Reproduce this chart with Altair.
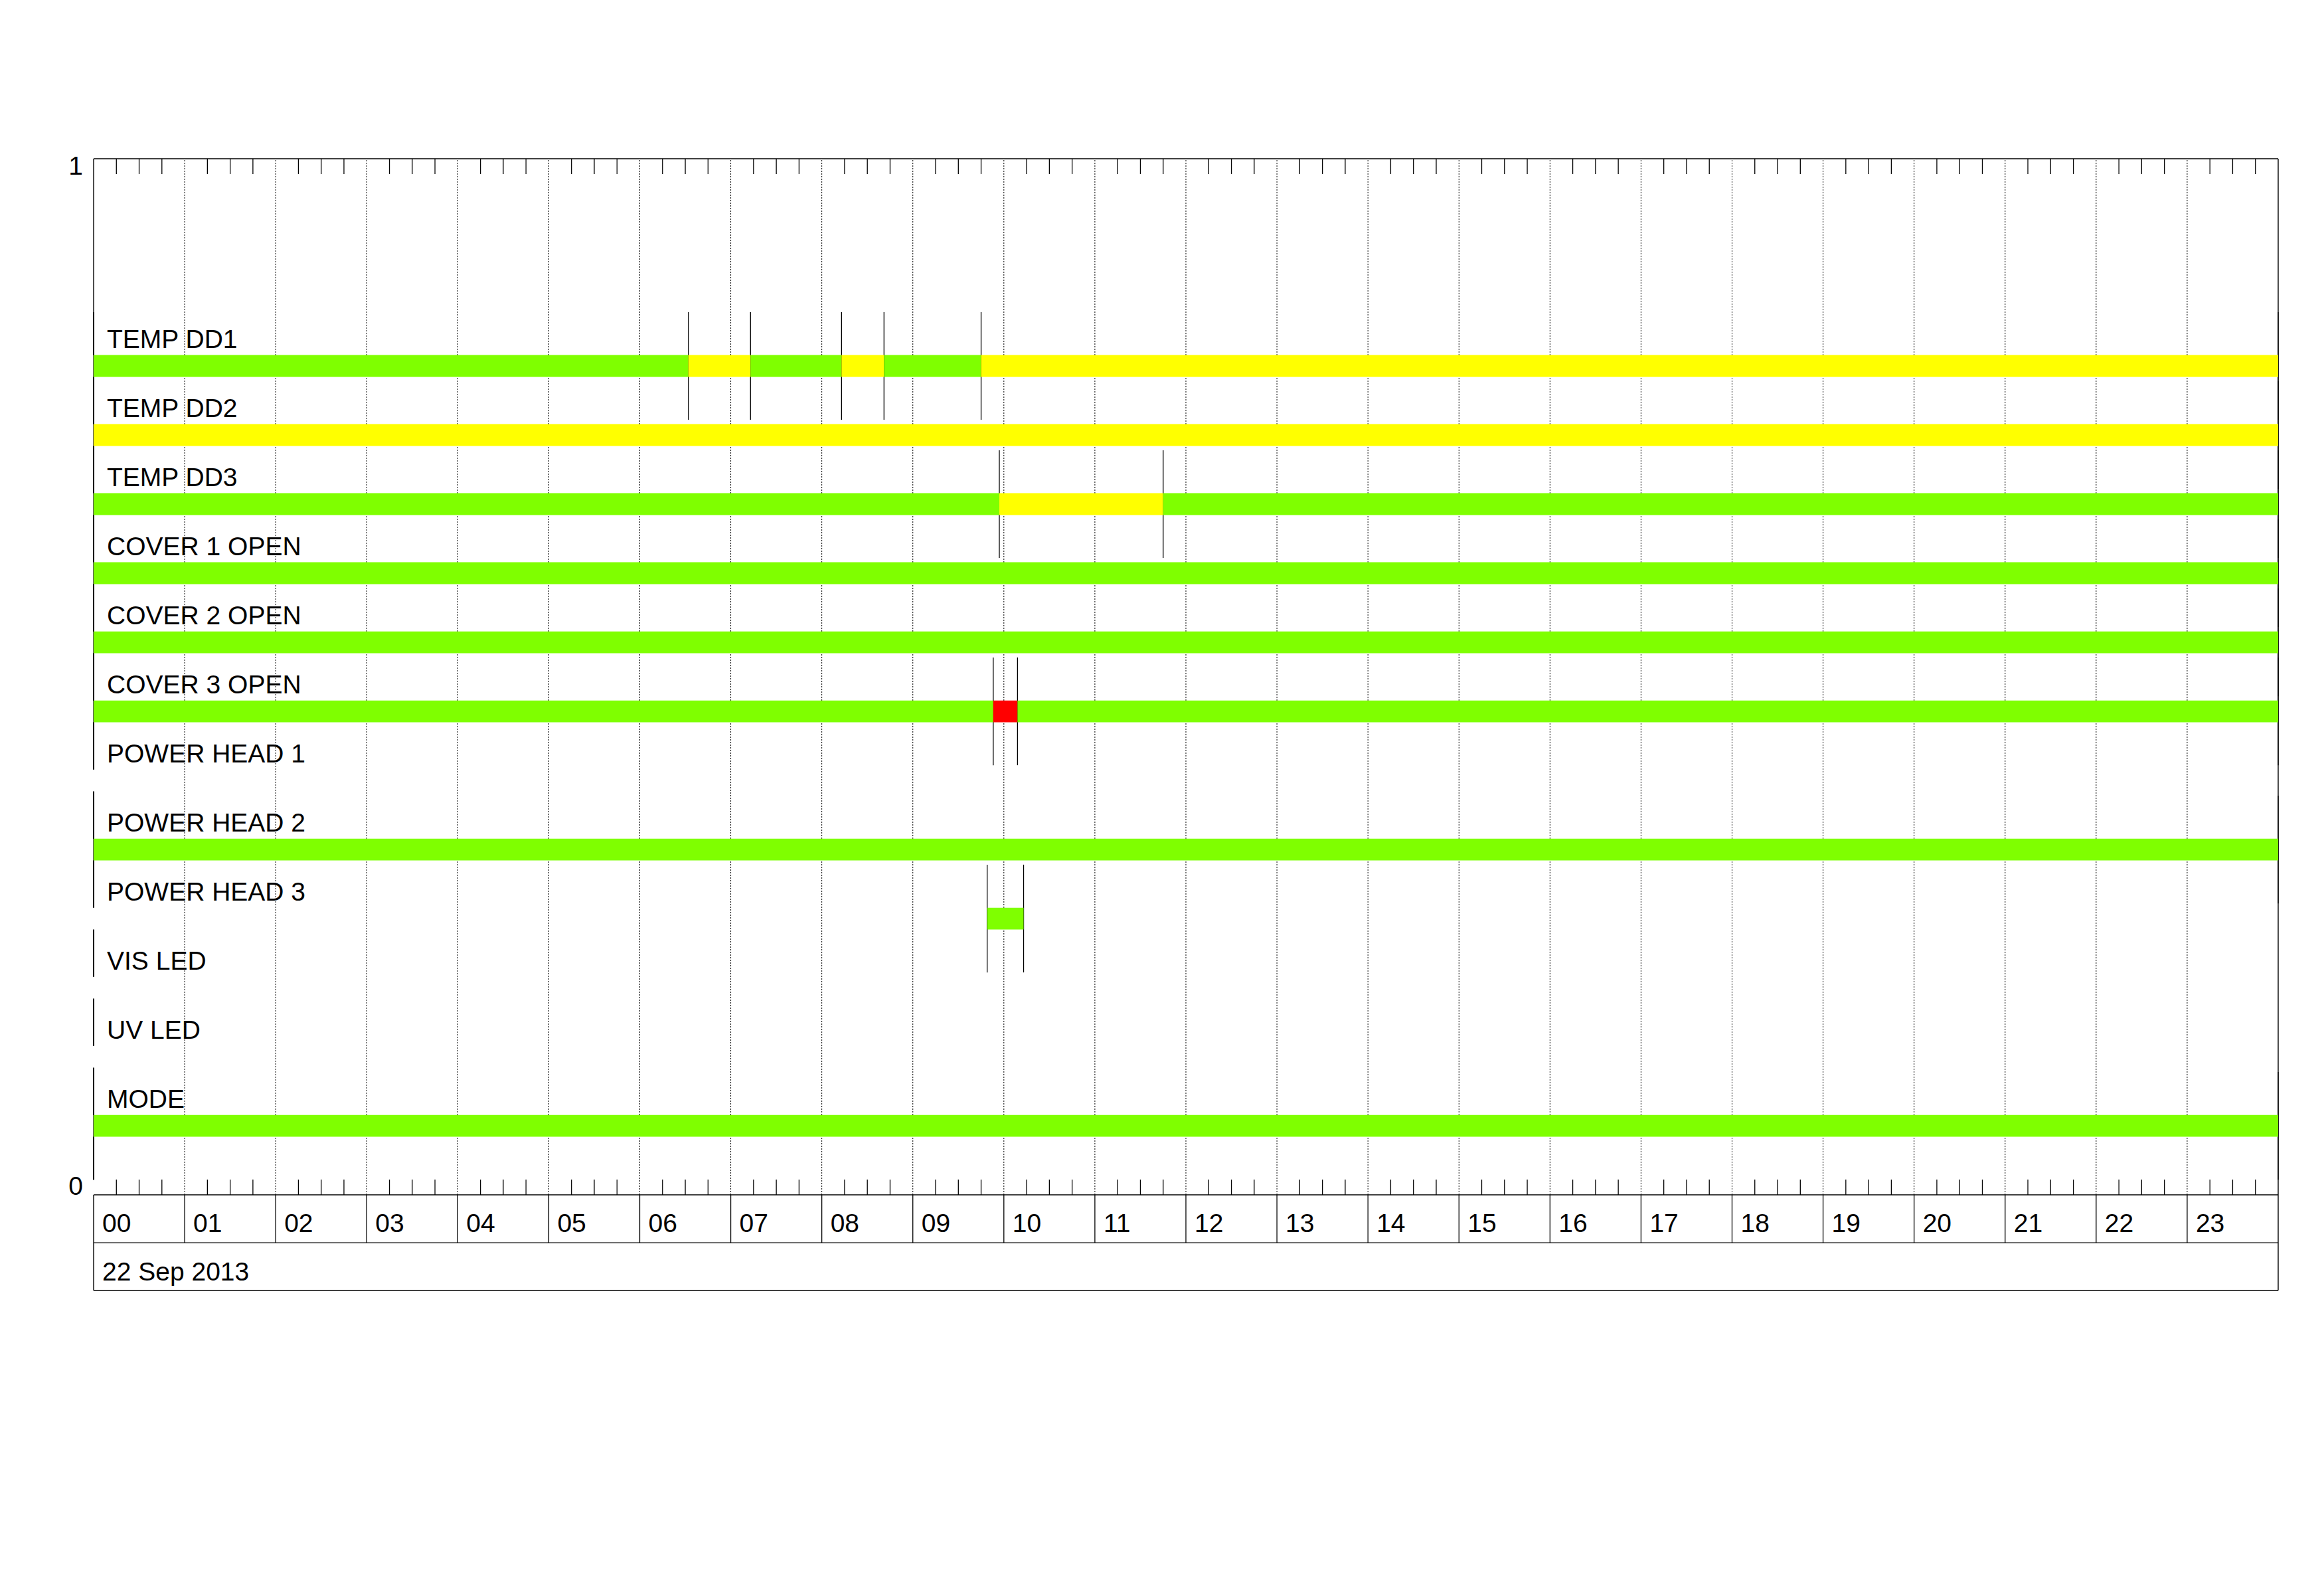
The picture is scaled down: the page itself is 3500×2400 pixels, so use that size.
import altair as alt
import pandas as pd

# ---------------------------------------------------------------------------
# Housekeeping status timeline, 22 Sep 2013 (hours of the day on x)
# ---------------------------------------------------------------------------
rows = [
    "TEMP DD1", "TEMP DD2", "TEMP DD3",
    "COVER 1 OPEN", "COVER 2 OPEN", "COVER 3 OPEN",
    "POWER HEAD 1", "POWER HEAD 2", "POWER HEAD 3",
    "VIS LED", "UV LED", "MODE",
]

# status segments: row, start (HH:MM), end (HH:MM), state
seg_row = [
    "TEMP DD1", "TEMP DD1", "TEMP DD1", "TEMP DD1", "TEMP DD1", "TEMP DD1",
    "TEMP DD2",
    "TEMP DD3", "TEMP DD3", "TEMP DD3",
    "COVER 1 OPEN",
    "COVER 2 OPEN",
    "COVER 3 OPEN", "COVER 3 OPEN", "COVER 3 OPEN",
    "POWER HEAD 2",
    "POWER HEAD 3",
    "MODE",
]
seg_start = [
    "00:00", "06:32", "07:13", "08:13", "08:41", "09:45",
    "00:00",
    "00:00", "09:57", "11:45",
    "00:00",
    "00:00",
    "00:00", "09:53", "10:09",
    "00:00",
    "09:49",
    "00:00",
]
seg_end = [
    "06:32", "07:13", "08:13", "08:41", "09:45", "24:00",
    "24:00",
    "09:57", "11:45", "24:00",
    "24:00",
    "24:00",
    "09:53", "10:09", "24:00",
    "24:00",
    "10:13",
    "24:00",
]
seg_state = [
    "ok", "warning", "ok", "warning", "ok", "warning",
    "warning",
    "ok", "warning", "ok",
    "ok",
    "ok",
    "ok", "alarm", "ok",
    "ok",
    "ok",
    "ok",
]

state_names = ["ok", "warning", "alarm"]
state_colors = ["#7FFF00", "#FFFF00", "#FF0000"]

hour_labels = [f"{h:02d}" for h in range(24)]
date_label = "22 Sep 2013"
y_labels = ["0", "1"]

# ---------------------------------------------------------------------------
# geometry in data units
# ---------------------------------------------------------------------------
X_MIN, X_MAX = 0.0, 24.0
Y_TOP = 1.0
ROW1_BOTTOM = -0.0462   # bottom of the hour-label strip
ROW2_BOTTOM = -0.0923   # bottom of the date strip
BAR_HALF = 0.0105
MARK_HALF = 0.052
TICK_LEN = 0.0147
FONT = "Liberation Sans, Arial, sans-serif"
FS = 39


def hours(t):
    hh, mm = t.split(":")
    return int(hh) + int(mm) / 60.0


def centre(name):
    i = rows.index(name)
    return (len(rows) - i) / 15.0


X_SCALE = alt.Scale(domain=[X_MIN, X_MAX], nice=False, zero=False)
Y_SCALE = alt.Scale(domain=[ROW2_BOTTOM, Y_TOP], nice=False, zero=False)


def X(f="x"):
    return alt.X(f"{f}:Q", scale=X_SCALE, axis=None)


def Y(f="y"):
    return alt.Y(f"{f}:Q", scale=Y_SCALE, axis=None)


# segments table
seg = pd.DataFrame({
    "row": seg_row,
    "x": [hours(t) for t in seg_start],
    "x2": [hours(t) for t in seg_end],
    "state": seg_state,
})
seg["c"] = seg["row"].map(centre)
seg["y"] = seg["c"] - BAR_HALF
seg["y2"] = seg["c"] + BAR_HALF

# transition markers at every segment boundary
bounds = pd.concat([seg[["row", "x", "c"]],
                    seg[["row", "x2", "c"]].rename(columns={"x2": "x"})])
bounds = bounds.drop_duplicates()
bounds["y"] = bounds["c"] - MARK_HALF
bounds["y2"] = bounds["c"] + MARK_HALF

# start markers on the left edge for every row (split around the bar slot)
left = []
for r in rows:
    c = centre(r)
    left.append({"x": X_MIN, "y": c + BAR_HALF, "y2": c + MARK_HALF})
    left.append({"x": X_MIN, "y": c - MARK_HALF, "y2": c - BAR_HALF})
left = pd.DataFrame(left)

# hour grid (dashed in the plot, solid in the label strip)
grid = pd.DataFrame({"x": list(range(1, 24))})
grid["y"], grid["y2"] = 0.0, Y_TOP
div = pd.DataFrame({"x": list(range(1, 24))})
div["y"], div["y2"] = ROW1_BOTTOM, 0.0

# quarter-hour minor ticks, top and bottom
quarters = [h + q / 4 for h in range(24) for q in (1, 2, 3)]
ticks = pd.DataFrame(
    [{"x": q, "y": Y_TOP - TICK_LEN, "y2": Y_TOP} for q in quarters]
    + [{"x": q, "y": 0.0, "y2": TICK_LEN} for q in quarters]
)

# frame: horizontal and vertical edges
hlines = pd.DataFrame({
    "x": [X_MIN] * 4, "x2": [X_MAX] * 4,
    "y": [Y_TOP, 0.0, ROW1_BOTTOM, ROW2_BOTTOM],
})
vlines = pd.DataFrame({
    "x": [X_MAX, X_MIN, X_MIN],
    "y": [ROW2_BOTTOM, ROW2_BOTTOM, centre(rows[0]) + MARK_HALF],
    "y2": [Y_TOP, 0.0, Y_TOP],
})

# text tables
row_text = pd.DataFrame({"label": rows, "x": X_MIN,
                         "y": [centre(r) + 0.017 for r in rows]})
hour_text = pd.DataFrame({"label": hour_labels,
                          "x": [float(h) for h in range(24)], "y": -0.0359})
date_text = pd.DataFrame({"label": [date_label], "x": [X_MIN], "y": [-0.0827]})
ytext = pd.DataFrame({"label": y_labels, "x": [X_MIN, X_MIN],
                      "y": [0.0, Y_TOP - 0.0152]})

# ---------------------------------------------------------------------------
# layers
# ---------------------------------------------------------------------------
grid_layer = alt.Chart(grid).mark_rule(
    color="#000000", strokeWidth=1, strokeDash=[2, 2]
).encode(x=X(), y=Y(), y2="y2:Q")

div_layer = alt.Chart(div).mark_rule(color="#000000", strokeWidth=1.3).encode(
    x=X(), y=Y(), y2="y2:Q")

tick_layer = alt.Chart(ticks).mark_rule(color="#000000", strokeWidth=1.3).encode(
    x=X(), y=Y(), y2="y2:Q")

hline_layer = alt.Chart(hlines).mark_rule(color="#000000", strokeWidth=1.4).encode(
    x=X(), x2="x2:Q", y=Y())

vline_layer = alt.Chart(vlines).mark_rule(color="#000000", strokeWidth=1.4).encode(
    x=X(), y=Y(), y2="y2:Q")

left_layer = alt.Chart(left).mark_rule(color="#000000", strokeWidth=2).encode(
    x=X(), y=Y(), y2="y2:Q")

mark_layer = alt.Chart(bounds).mark_rule(color="#000000", strokeWidth=1.3).encode(
    x=X(), y=Y(), y2="y2:Q")

bar_layer = alt.Chart(seg).mark_rect(strokeWidth=0).encode(
    x=X(), x2="x2:Q", y=Y(), y2="y2:Q",
    color=alt.Color("state:N",
                    scale=alt.Scale(domain=state_names, range=state_colors),
                    legend=None),
)

row_label_layer = alt.Chart(row_text).mark_text(
    align="left", baseline="alphabetic", dx=20, font=FONT, fontSize=FS,
    color="#000000"
).encode(x=X(), y=Y(), text="label:N")

hour_label_layer = alt.Chart(hour_text).mark_text(
    align="left", baseline="alphabetic", dx=13, font=FONT, fontSize=FS,
    color="#000000"
).encode(x=X(), y=Y(), text="label:N")

date_label_layer = alt.Chart(date_text).mark_text(
    align="left", baseline="alphabetic", dx=13, font=FONT, fontSize=FS,
    color="#000000"
).encode(x=X(), y=Y(), text="label:N")

y_label_layer = alt.Chart(ytext).mark_text(
    align="right", baseline="alphabetic", dx=-16, font=FONT, fontSize=FS,
    color="#000000"
).encode(x=X(), y=Y(), text="label:N")

chart = alt.layer(
    grid_layer, div_layer, tick_layer, hline_layer, vline_layer,
    left_layer, mark_layer, bar_layer,
    row_label_layer, hour_label_layer, date_label_layer, y_label_layer,
).properties(
    width=3290,
    height=1704,
    autosize=alt.AutoSizeParams(type="none"),
    padding={"left": 141, "top": 239, "right": 69, "bottom": 457},
    background="#ffffff",
).configure_view(stroke=None)

chart.save("out.html", embed_options={"renderer": "svg", "actions": False})
